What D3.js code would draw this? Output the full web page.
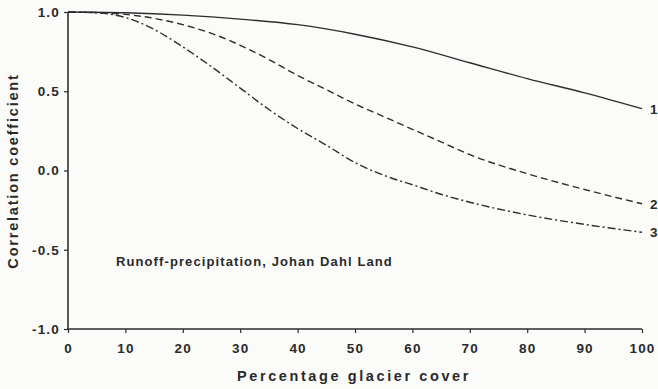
<!DOCTYPE html>
<html><head><meta charset="utf-8">
<script src="https://cdn.jsdelivr.net/npm/d3@7"></script>
<style>
html,body{margin:0;padding:0;background:#fbfcf9;}
svg{display:block;}
text{font-family:"Liberation Sans",Arial,sans-serif;font-weight:bold;fill:#2a2a2a;}
</style></head><body>
<svg id="c" width="658" height="389"></svg>
<script>
const xTicks = [0,10,20,30,40,50,60,70,80,90,100];
const yTicks = [1.0,0.5,0.0,-0.5,-1.0];
const yTickLabels = ["1.0","0.5","0.0","-0.5","-1.0"];
const curve1X = [0,10,20,30,40,50,60,70,80,90,100];
const curve1Y = [1.0,0.995,0.98,0.955,0.92,0.86,0.78,0.68,0.58,0.49,0.39];
const curve2X = [0,5,10,15,20,25,30,35,40,45,50,55,60,65,70,80,90,100];
const curve2Y = [1.0,0.997,0.985,0.96,0.92,0.865,0.79,0.70,0.60,0.51,0.42,0.34,0.26,0.18,0.10,-0.02,-0.12,-0.21];
const curve3X = [0,5,10,15,20,25,30,35,40,45,50,55,60,65,70,80,90,100];
const curve3Y = [1.0,0.995,0.965,0.89,0.78,0.655,0.52,0.385,0.265,0.16,0.05,-0.03,-0.09,-0.15,-0.20,-0.28,-0.34,-0.39];
const seriesLabels = ["1","2","3"];
const annotation = "Runoff-precipitation, Johan Dahl Land";
const xTitle = "Percentage glacier cover";
const yTitle = "Correlation coefficient";

const svg = d3.select("#c");
const x = d3.scaleLinear().domain([0,100]).range([68,642]);
const y = d3.scaleLinear().domain([-1,1]).range([329,12]);
const stroke = "#2e2e2e";

// axes
const xAxis = d3.axisBottom(x).tickValues(xTicks).tickSize(4).tickFormat(d3.format("d"));
const gx = svg.append("g").attr("transform","translate(0,329)").call(xAxis);
gx.select(".domain").attr("stroke",stroke).attr("stroke-width",1.6).attr("d","M68,0H642");
gx.selectAll(".tick line").attr("stroke",stroke).attr("stroke-width",1.2);
gx.selectAll(".tick text").attr("dy","0").attr("y",24).style("font-size","13.5px").style("letter-spacing","1.2px").attr("fill","#2a2a2a");

const yAxis = d3.axisLeft(y).tickValues(yTicks).tickSize(4).tickFormat((d,i)=>yTickLabels[i]);
const gy = svg.append("g").attr("transform","translate(68,0)").call(yAxis);
gy.select(".domain").attr("stroke",stroke).attr("stroke-width",1.6).attr("d","M0,12V329");
gy.selectAll(".tick line").attr("stroke",stroke).attr("stroke-width",1.2);
gy.selectAll(".tick text").attr("x",-8).style("font-size","13.5px").style("letter-spacing","1.2px").attr("fill","#2a2a2a");
svg.selectAll(".tick text").attr("font-family",null).attr("font-size",null);

// curves
const line = d3.line().x(d=>x(d[0])).y(d=>y(d[1])).curve(d3.curveMonotoneX);
const series = [
  {xs:curve1X, ys:curve1Y, dash:null},
  {xs:curve2X, ys:curve2Y, dash:"7,4"},
  {xs:curve3X, ys:curve3Y, dash:"8,3,2,3"}
];
series.forEach((s,i)=>{
  const pts = s.xs.map((v,j)=>[v,s.ys[j]]);
  svg.append("path").attr("d",line(pts)).attr("fill","none")
    .attr("stroke",stroke).attr("stroke-width",1.4)
    .attr("stroke-dasharray",s.dash);
  svg.append("text").attr("x",x(100)+8).attr("y",y(s.ys[s.ys.length-1])+5)
    .style("font-size","13.5px").text(seriesLabels[i]);
});

// annotation
svg.append("text").attr("x",116).attr("y",266).style("font-size","13px")
  .style("letter-spacing","1.1px").text(annotation);

// titles
svg.append("text").attr("x",354).attr("y",381).attr("text-anchor","middle")
  .style("font-size","14.5px").style("letter-spacing","2.6px").text(xTitle);
svg.append("text").attr("transform","translate(18,171) rotate(-90)").attr("text-anchor","middle")
  .style("font-size","14.5px").style("letter-spacing","1.8px").text(yTitle);
</script>
</body></html>
